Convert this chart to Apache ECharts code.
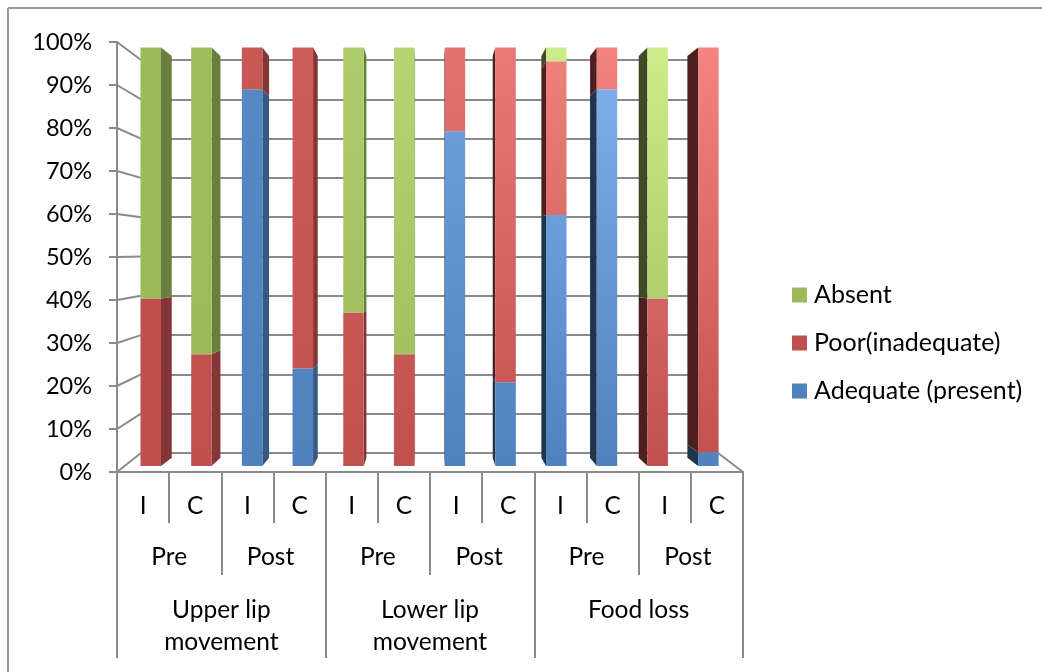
<!DOCTYPE html>
<html>
<head>
<meta charset="utf-8">
<style>html,body{margin:0;padding:0;background:#fff}#chart{width:1042px;height:672px}</style>
<script src="https://cdn.jsdelivr.net/npm/echarts@6/dist/echarts.min.js"></script>
</head>
<body>
<div id="chart"></div>
<script>
// Percentages for each measure, in bar order (Upper lip, Lower lip, Food loss).
const categories = ['I','C','I','C','I','C','I','C','I','C','I','C'];
const stages = ['Pre','Post','Pre','Post','Pre','Post'];
const groups = ['Upper lip\nmovement','Lower lip\nmovement','Food loss'];
const adequate = [0,0,90,23.3,0,0,80,20,60,90,0,3.3];
const poor = [40,26.7,10,76.7,36.7,26.7,20,80,36.7,10,40,96.7];
const absent = [60,73.3,0,0,63.3,73.3,0,0,3.3,0,60,0];
const valueTicks = [0,10,20,30,40,50,60,70,80,90,100];
// Extra brightness reached at the top of each column, rising across the plot.
const sheen = [0,3,8,12,18,26,35,42,50,50,50,52];

const baseColors = {adequate:[79,129,189], poor:[192,80,77], absent:[155,187,89]};
const lineGray = '#8a8a8a';
const fontFamily = 'Lato, Carlito, sans-serif';
const front = {left:117, top:42, width:626, height:430};
const wall = {left:141, top:60, width:577, height:393};
const barGrid = {left:125.4, top:47.5, width:608.3, height:418.5};
const vanish = {x:430, y:257};
const depth = 0.96;
const barWidth = 20.5;

const rgb = c => 'rgb(' + c.map(v => Math.min(255, Math.round(v))).join(',') + ')';

// Vertical shading of one stacked segment, tied to its height on the value scale.
function segmentStyle(base, i, low, high) {
  const at = v => rgb(base.map(ch => ch + sheen[i] * v / 100));
  return {color: new echarts.graphic.LinearGradient(0, 0, 0, 1, [
    {offset: 0, color: at(high)}, {offset: 1, color: at(low)}
  ])};
}

const stackOrder = [
  {name:'Adequate (present)', key:'adequate', values:adequate},
  {name:'Poor(inadequate)', key:'poor', values:poor},
  {name:'Absent', key:'absent', values:absent}
];

const sideData = [];
const barSeries = stackOrder.map((s, k) => {
  const data = s.values.map((v, i) => {
    const low = stackOrder.slice(0, k).reduce((sum, o) => sum + o.values[i], 0);
    if (v > 0) sideData.push([i, low, low + v, k]);
    return {value: v, itemStyle: segmentStyle(baseColors[s.key], i, low, low + v)};
  });
  return {
    name: s.name, type: 'bar', stack: 'total', xAxisIndex: 4, yAxisIndex: 2,
    barWidth: barWidth, z: 3, silent: true,
    itemStyle: {color: rgb(baseColors[s.key])}, data: data
  };
});

// Receding side of each column, projected toward the vanishing point.
const sideSeries = {
  type: 'custom', xAxisIndex: 4, yAxisIndex: 2, z: 2, silent: true,
  data: sideData, encode: {x: 0, y: [1, 2]},
  renderItem(params, api) {
    const c0 = api.coord([api.value(0), api.value(1)]);
    const c1 = api.coord([api.value(0), api.value(2)]);
    const leftOfCentre = c0[0] < vanish.x;
    const edge = leftOfCentre ? c0[0] + barWidth / 2 : c0[0] - barWidth / 2;
    const px = x => vanish.x + (x - vanish.x) * depth;
    const py = y => vanish.y + (y - vanish.y) * depth;
    const base = baseColors[stackOrder[api.value(3)].key];
    const shade = leftOfCentre ? 0.68 : 0.4;
    return {
      type: 'polygon',
      shape: {points: [[edge, c1[1]], [px(edge), py(c1[1])], [px(edge), py(c0[1])], [edge, c0[1]]]},
      style: {fill: rgb(base.map(ch => ch * shade))}
    };
  }
};

// Slanted side-wall and floor rules joining the front frame to the back wall.
const wallSeries = {
  type: 'custom', xAxisIndex: 0, yAxisIndex: 0, z: 1, silent: true,
  data: valueTicks.map(v => [0, v]), encode: {y: 1},
  renderItem(params, api) {
    const y = api.coord([0, api.value(1)])[1];
    const backY = wall.top + (y - front.top) * wall.height / front.height;
    const style = {stroke: lineGray, lineWidth: 2, fill: null};
    const children = [{type: 'line', shape: {x1: front.left, y1: y, x2: wall.left, y2: backY}, style}];
    if (api.value(1) === valueTicks[0]) {
      children.push({type: 'line',
        shape: {x1: front.left + front.width, y1: y, x2: wall.left + wall.width, y2: backY}, style});
    }
    return {type: 'group', children};
  }
};

const tierAxis = (data, tickLength, margin, extra) => ({
  type: 'category', gridIndex: 0, position: 'bottom', data,
  axisLine: {show: true, lineStyle: {color: lineGray, width: 2}},
  axisTick: {show: true, length: tickLength, lineStyle: {color: lineGray, width: 2}},
  axisLabel: Object.assign({show: true, interval: 0, margin, color: '#000',
    fontSize: 24.5, fontFamily: fontFamily, verticalAlign: 'top', hideOverlap: false}, extra || {})
});

const chart = echarts.init(document.getElementById('chart'), null, {renderer: 'canvas'});
chart.setOption({
  animation: false,
  backgroundColor: '#fff',
  graphic: [
    {type: 'line', shape: {x1: 8, y1: 8, x2: 1042, y2: 8}, style: {stroke: '#9a9a9a', lineWidth: 2}},
    {type: 'line', shape: {x1: 8, y1: 8, x2: 8, y2: 672}, style: {stroke: '#9a9a9a', lineWidth: 2}}
  ],
  legend: {
    left: 787, top: 276, orient: 'vertical', itemWidth: 15, itemHeight: 15, itemGap: 20,
    icon: 'rect', selectedMode: false,
    data: ['Absent', 'Poor(inadequate)', 'Adequate (present)'],
    textStyle: {color: '#000', fontSize: 25, fontFamily: fontFamily, padding: [0, 0, 0, 2], lineHeight: 28}
  },
  grid: [front, wall, barGrid].map(g => ({left: g.left, top: g.top, width: g.width, height: g.height})),
  xAxis: [
    tierAxis(categories, 51, 22),
    tierAxis(stages, 103, 73, {
      formatter: v => v === 'Post' ? '{post|' + v + '}' : v,
      rich: {post: {fontSize: 24.5, fontFamily: fontFamily, color: '#000', padding: [0, 6, 0, 0]}}
    }),
    tierAxis(groups, 186, 122, {lineHeight: 32}),
    {type: 'value', gridIndex: 1, min: 0, max: 1, axisLabel: {show: false}, axisTick: {show: false},
      splitLine: {show: false}, axisLine: {show: true, onZero: false, lineStyle: {color: lineGray, width: 2}}},
    {type: 'category', gridIndex: 2, data: categories, show: false}
  ],
  yAxis: [
    {type: 'value', gridIndex: 0, min: 0, max: 100, interval: 10,
      axisLine: {show: true, lineStyle: {color: lineGray, width: 2}},
      axisTick: {show: true, length: 8, lineStyle: {color: lineGray, width: 2}},
      axisLabel: {formatter: '{value}%', margin: 25, color: '#000', fontSize: 23.5, fontFamily: fontFamily,
        padding: [7, 0, 0, 0]},
      splitLine: {show: false}},
    {type: 'value', gridIndex: 1, min: 0, max: 100, interval: 10,
      axisLine: {show: false}, axisTick: {show: false}, axisLabel: {show: false},
      splitLine: {show: true, lineStyle: {color: lineGray, width: 2}}},
    {type: 'value', gridIndex: 2, min: 0, max: 100, show: false}
  ],
  series: [wallSeries, sideSeries].concat(barSeries)
});
</script>
</body>
</html>
